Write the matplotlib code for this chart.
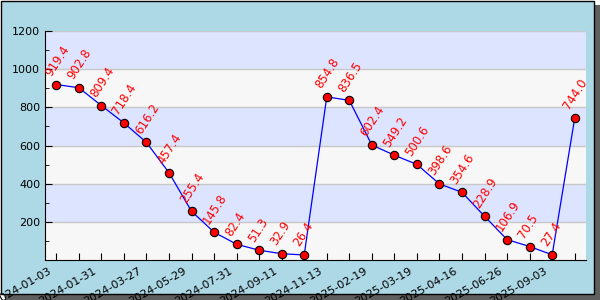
import matplotlib.pyplot as plt
from matplotlib.patches import Rectangle
from matplotlib.ticker import MultipleLocator
from matplotlib.transforms import ScaledTranslation

values = [919.4, 902.8, 809.4, 718.4, 616.2, 457.4, 255.4, 145.8, 82.4, 51.3,
          32.9, 26.4, 854.8, 836.5, 602.4, 549.2, 500.6, 398.6, 354.6, 228.9,
          106.9, 70.5, 27.4, 744.0]
date_labels = ['2024-01-03', '2024-01-31', '2024-03-27', '2024-05-29',
               '2024-07-31', '2024-09-11', '2024-11-13', '2025-02-19',
               '2025-03-19', '2025-04-16', '2025-06-26', '2025-09-03']
y_ticks = [200, 400, 600, 800, 1000, 1200]

fig = plt.figure(figsize=(6, 3), dpi=100, facecolor='white')

# shadow + light blue frame
fig.patches.append(Rectangle((5/600, 0), 595/600, 295/300, transform=fig.transFigure,
                             facecolor='#5f5f5f', edgecolor='none', zorder=-2))
fig.patches.append(Rectangle((0.5/600, 6/300), 593/600, 293.5/300, transform=fig.transFigure,
                             facecolor='lightblue', edgecolor='black', lw=1, zorder=-1))

ax = fig.add_axes([45/600, 1 - 260/300, 541/600, 229/300])
ax.set_facecolor('#f7f7f7')

# alternating bands
for i, lo in enumerate(range(0, 1200, 200)):
    if i % 2 == 1:
        ax.axhspan(lo, lo + 200, color='#dde4ff', zorder=0, lw=0)
for t in y_ticks:
    ax.axhline(t, color='#c8c8c8', lw=1, zorder=1)

x = list(range(len(values)))
ax.plot(x, values, color='blue', lw=0.9, zorder=2)
ax.plot(x, values, 'o', markerfacecolor='red', markeredgecolor='black',
        markersize=6, mew=0.8, zorder=3)

for xi, v in zip(x, values):
    ax.annotate('%.1f' % v, (xi, v), xytext=(-3, 6), textcoords='offset pixels',
                rotation=57, rotation_mode='anchor', ha='left', va='bottom',
                color='red', fontsize=8.5, zorder=4)

ax.set_xlim(-0.5, len(values) - 0.5)
ax.set_ylim(0, 1200)
ax.set_yticks(y_ticks)
ax.yaxis.set_minor_locator(MultipleLocator(100))
ax.set_xticks(x)
ax.set_xticklabels([date_labels[i // 2] if i % 2 == 0 else '' for i in x],
                   rotation=30, ha='right', rotation_mode='anchor')

ax.tick_params(axis='both', which='both', direction='in', labelsize=8, color='black')
ax.tick_params(axis='both', which='major', length=5)
ax.tick_params(axis='y', which='minor', length=3)
ax.tick_params(axis='x', pad=4)

shift = ScaledTranslation(-8/100, 0, fig.dpi_scale_trans)
for lbl in ax.get_xticklabels():
    lbl.set_transform(lbl.get_transform() + shift)

ax.spines['top'].set_visible(False)
ax.spines['right'].set_visible(False)

fig.savefig('out.png', dpi=100, facecolor=fig.get_facecolor())
